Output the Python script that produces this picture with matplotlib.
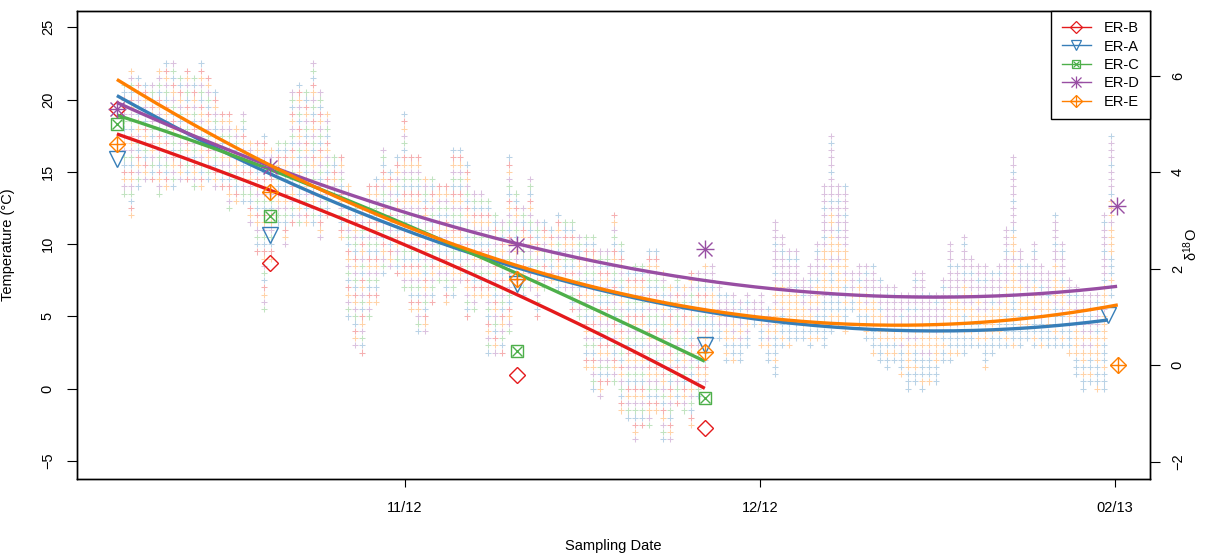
import numpy as np
import matplotlib
matplotlib.use("Agg")
import matplotlib.pyplot as plt
from matplotlib.lines import Line2D

plt.rcParams['font.family'] = ['Liberation Sans', 'DejaVu Sans']
plt.rcParams['mathtext.default'] = 'regular'

# colours of the five sites (ER-B, ER-A, ER-C, ER-D, ER-E)
sites = ["ER-B", "ER-A", "ER-C", "ER-D", "ER-E"]
colors = {"ER-B": "#E41A1C", "ER-A": "#377EB8", "ER-C": "#4DAF4A",
          "ER-D": "#984EA3", "ER-E": "#FF7F00"}

# logger temperature cloud: daily max / min (°C), day 1..142
temp_hi = [21.0, 22.1, 21.7, 20.8, 20.8, 21.9, 22.3, 22.3, 21.7, 22.2,
           21.7, 22.4, 21.4, 20.7, 18.8, 18.8, 18.0, 19.1, 17.0, 17.0,
           17.6, 16.5, 17.2, 16.8, 20.3, 20.9, 20.3, 22.5, 20.3, 19.2,
           15.8, 15.8, 13.8, 12.4, 12.6, 13.8, 14.3, 16.3, 14.9, 15.8,
           18.9, 15.8, 15.8, 14.5, 14.7, 14.1, 13.8, 16.3, 16.7, 15.4,
           13.6, 13.4, 12.9, 12.0, 11.7, 16.0, 13.4, 12.4, 14.3, 11.5,
           11.5, 11.2, 12.0, 11.5, 11.5, 10.6, 10.3, 10.6, 9.6, 9.6,
           12.0, 9.8, 8.2, 8.7, 8.7, 9.6, 9.6, 8.0, 6.9, 7.4,
           7.1, 8.2, 7.8, 8.7, 8.7, 6.9, 6.4, 6.4, 6.0, 6.4,
           6.2, 6.6, 5.7, 11.7, 10.6, 9.6, 9.4, 7.4, 8.7, 9.8,
           14.1, 17.5, 14.0, 14.0, 8.2, 8.7, 8.7, 8.7, 7.5, 7.1,
           7.1, 6.4, 6.4, 7.8, 7.8, 6.4, 6.4, 7.5, 9.8, 8.7,
           10.6, 9.1, 8.7, 8.7, 7.8, 8.7, 11.0, 16.0, 9.6, 8.7,
           9.8, 8.7, 8.2, 12.2, 9.8, 7.5, 6.9, 6.4, 6.4, 6.4,
           12.0, 17.5]
temp_lo = [13.3, 12.2, 14.0, 14.3, 14.3, 13.3, 14.0, 14.0, 14.3, 14.5,
           14.0, 14.0, 14.3, 14.0, 13.8, 12.6, 13.2, 12.9, 11.5, 9.6,
           5.3, 9.0, 11.5, 9.8, 11.5, 11.5, 11.5, 11.5, 10.6, 12.0,
           13.4, 10.6, 5.0, 2.9, 2.5, 5.0, 6.0, 7.8, 8.7, 8.2,
           6.9, 5.5, 4.1, 3.9, 6.0, 7.4, 6.2, 6.4, 7.5, 5.0,
           5.5, 6.4, 2.5, 2.5, 2.7, 3.9, 6.9, 6.4, 6.9, 4.8,
           6.9, 7.4, 6.9, 6.9, 5.5, 5.0, 1.3, -0.1, -0.3, 0.4,
           0.4, -1.5, -2.0, -3.3, -2.5, -2.7, -1.5, -3.4, -3.4, -1.0,
           -1.5, -2.3, -0.5, 0.4, 3.4, 3.4, 2.0, 2.0, 2.0, 2.9,
           4.3, 2.9, 1.8, 1.1, 3.2, 3.2, 3.4, 3.6, 3.2, 3.4,
           3.2, 4.1, 4.3, 4.1, 5.3, 4.6, 3.6, 2.5, 2.0, 1.6,
           1.8, 1.1, -0.1, 0.4, -0.1, 0.6, 0.6, 1.8, 2.0, 2.7,
           2.7, 3.2, 3.2, 1.3, 2.7, 3.2, 3.2, 3.2, 3.2, 3.6,
           3.2, 3.2, 3.2, 3.2, 3.2, 2.7, 1.1, -0.1, 0.4, 0.2,
           -0.1, 6.6]
temp_day = np.arange(1, len(temp_hi) + 1)
last_day_bc = 84  # ER-B and ER-C loggers stop here

# d18O samples
d18_day = {"ER-B": [0, 21.9, 57.1, 84],
           "ER-A": [0, 21.9, 57.1, 84, 141.6],
           "ER-C": [0, 21.9, 57.1, 84],
           "ER-D": [0, 21.9, 57.1, 84, 142.9],
           "ER-E": [0, 21.9, 57.1, 84, 143.0]}
d18_val = {"ER-B": [5.30, 2.11, -0.21, -1.30],
           "ER-A": [4.27, 2.69, 1.69, 0.41, 1.04],
           "ER-C": [4.99, 3.09, 0.30, -0.69],
           "ER-D": [5.30, 4.11, 2.49, 2.40, 3.30],
           "ER-E": [4.58, 3.59, 1.78, 0.28, 0.00]}

# trend curves, values
fit_day = {"ER-B": [0, 12, 26, 40, 57, 71, 84],
           "ER-A": [0, 12, 21, 36, 45, 57, 72, 85, 99, 113, 128, 141.6],
           "ER-C": [0, 12, 21, 36, 45, 57, 72, 84],
           "ER-D": [0, 12, 22, 36, 45, 57, 72, 85, 99, 113, 128, 142.9],
           "ER-E": [0, 12, 21, 36, 45, 57, 72, 85, 99, 113, 128, 143.0]}
fit_val = {"ER-B": [4.80, 4.15, 3.39, 2.59, 1.45, 0.50, -0.48],
           "ER-A": [5.54, 4.77, 3.97, 3.07, 2.60, 2.04, 1.45, 1.07, 0.83, 0.73, 0.77, 0.92],
           "ER-C": [5.18, 4.59, 4.11, 3.25, 2.66, 1.90, 0.93, 0.07],
           "ER-D": [5.42, 4.73, 4.11, 3.42, 3.00, 2.49, 2.04, 1.76, 1.49, 1.42, 1.47, 1.62],
           "ER-E": [5.86, 5.04, 4.15, 3.17, 2.68, 2.06, 1.47, 1.14, 0.90, 0.83, 0.95, 1.24]}

tick_pos = [41.1, 91.9, 142.6]
tick_lab = ["11/12", "12/12", "02/13"]

# marker recipes mimicking R pch 5..9
markers = {"ER-B": [("D", 8.5)],
           "ER-A": [("v", 11)],
           "ER-C": [("s", 8), ("x", 7)],
           "ER-D": [("+", 13), ("x", 10)],
           "ER-E": [("D", 8.5), ("+", 12)]}

fig = plt.figure(figsize=(12.25, 5.54), dpi=100)
ax = fig.add_axes([77 / 1225, 1 - 479 / 554, 1073 / 1225, 468 / 554])
ax2 = ax.twinx()

# temperature cloud
xs, ys, cs = [], [], []
five = [colors[s] for s in sites]
three = [colors["ER-A"], colors["ER-E"], colors["ER-D"]]
for d, lo, hi in zip(temp_day, temp_lo, temp_hi):
    t = np.arange(np.round(lo * 2) / 2, np.round(hi * 2) / 2 + 0.01, 0.5)
    for k, v in enumerate(t):
        xs.append(d)
        ys.append(v)
        if d <= last_day_bc:
            cs.append(five[(k + 2 * d) % 5])
        else:
            f = (v - lo) / max(hi - lo, 0.5)
            i = 0 if f < 0.3 else (1 if f < 0.6 else 2)
            if (k + d) % 4 == 0:
                i = (i + 1) % 3
            cs.append(three[i])
ax.scatter(xs, ys, marker="+", s=21, c=cs, alpha=0.34, linewidths=0.75)

# d18O points and smoothed trend curves
for s in sites:
    c = colors[s]
    coef = np.polyfit(fit_day[s], fit_val[s], 3)
    xx = np.linspace(fit_day[s][0], fit_day[s][-1], 200)
    ax2.plot(xx, np.polyval(coef, xx), color=c, lw=2.4, solid_capstyle="butt")
    for m, ms in markers[s]:
        ax2.plot(d18_day[s], d18_val[s], ls="none", marker=m, ms=ms,
                 mfc="none", mec=c, mew=1.0)

ax.set_xlim(-5.7, 147.6)
ax.set_ylim(-6.25, 26.13)
ax2.set_ylim(-2.36, 7.34)

ax.set_xticks(tick_pos)
ax.set_xticklabels(tick_lab)
ax.set_yticks([-5, 0, 5, 10, 15, 20, 25])
ax2.set_yticks([-2, 0, 2, 4, 6])

ax.tick_params(axis="x", length=6, pad=10, labelsize=10.5)
ax.tick_params(axis="y", length=7, pad=9, labelsize=10.5, labelrotation=90)
ax2.tick_params(axis="y", length=7, pad=8, labelsize=10.5, labelrotation=90)
for lab in ax.get_yticklabels() + ax2.get_yticklabels():
    lab.set_va("center")

ax.set_xlabel("Sampling Date", fontsize=10.5)
ax.xaxis.set_label_coords(0.5, -0.128)
ax.set_ylabel("Temperature (°C)", fontsize=10.5)
ax.yaxis.set_label_coords(-0.058, 0.5)
ax2.set_ylabel("δ$^{18}$O", fontsize=10.5, rotation=90)
ax2.yaxis.set_label_coords(1.029, 0.5)

for sp in list(ax.spines.values()) + list(ax2.spines.values()):
    sp.set_linewidth(1.0)
    sp.set_color("black")

handles = []
for s in sites:
    c = colors[s]
    parts = []
    for j, (m, ms) in enumerate(markers[s]):
        parts.append(Line2D([], [], color=c, lw=1.0 if j == 0 else 0,
                            marker=m, ms=ms * 0.7, mfc="none", mec=c, mew=0.9))
    handles.append(tuple(parts))
leg = ax2.legend(handles, sites, loc="upper right", borderaxespad=0,
                 fancybox=False, edgecolor="black", framealpha=1,
                 fontsize=10.5, handlelength=2.0, labelspacing=0.3,
                 borderpad=0.7, handletextpad=0.9)
leg.get_frame().set_linewidth(1.0)

fig.savefig("out.png", dpi=100)
